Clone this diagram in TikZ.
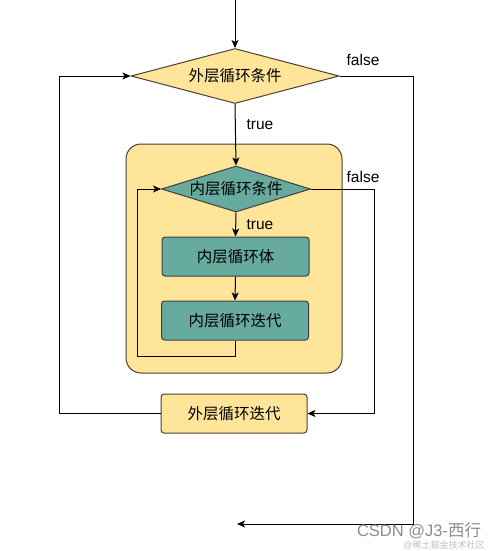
\documentclass[tikz,border=0pt]{standalone}
\usepackage{fontspec}
\setmainfont{Liberation Sans}
\newfontfamily\cjk{Noto Sans CJK SC}
\usetikzlibrary{shapes.geometric,arrows.meta}
\definecolor{ylw}{HTML}{FFE599}
\definecolor{teal2}{HTML}{67AB9F}
\definecolor{bdr}{HTML}{3F3F3F}
\definecolor{ybdr}{HTML}{4A4030}
\tikzset{
  x=1pt,y=-1pt,
  every node/.style={font=\fontsize{15.5}{18}\selectfont},
  ydia/.style={diamond,draw=ybdr,fill=ylw,line width=1pt,inner sep=0pt,aspect=3.8,minimum width=208pt,minimum height=55pt},
  tdia/.style={diamond,draw=bdr,fill=teal2,line width=1pt,inner sep=0pt,aspect=3.2,minimum width=149pt,minimum height=46pt},
  tbox/.style={rectangle,rounded corners=3pt,draw=bdr,fill=teal2,line width=1pt,minimum width=147pt,minimum height=39pt,inner sep=0pt},
  ybox/.style={rectangle,rounded corners=3pt,draw=ybdr,fill=ylw,line width=1pt,minimum width=146pt,minimum height=39pt,inner sep=0pt},
  contbox/.style={rectangle,rounded corners=15pt,draw=ybdr,fill=ylw,line width=1pt,minimum width=216pt,minimum height=229pt,inner sep=0pt},
  arr/.style={line width=1pt,-{Stealth[length=8pt,width=7pt,inset=2pt]}},
  lbl/.style={inner sep=0pt},
}
\begin{document}
\begin{tikzpicture}
\useasboundingbox (0,0) rectangle (495,551);
\node[contbox] (cont) at (234,258.5) {};
\node[ydia] (od) at (235,76) {\cjk 外层循环条件};
\node[tdia] (id) at (236,189) {\cjk 内层循环条件};
\node[tbox] (body) at (235.5,256.5) {\cjk 内层循环体};
\node[tbox] (iit) at (235,320.5) {\cjk 内层循环迭代};
\node[ybox] (oit) at (234,413.5) {\cjk 外层循环迭代};
\coordinate (start) at (235,0);
\coordinate (endp) at (237,524);
\node[lbl] (f1) at (363,60) {false};
\node[lbl] (f2) at (363,177) {false};
\node[lbl] (t1) at (260,125) {true};
\node[lbl] (t2) at (260,225) {true};
\draw[arr] (start) -- (od.north);
\draw[arr] (od.south) -- (id.north);
\draw[arr] (id.south) -- (body.north);
\draw[arr] (body.south) -- (iit.north);
\draw[arr] (iit.south) -- (iit.south |- 0,356) -- (137,356) |- (id.west);
\draw[arr] (id.east) -- (374,189) |- (oit.east);
\draw[arr] (oit.west) -- (59,413.5) |- (od.west);
\draw[arr] (od.east) -- (413,76) |- (endp);
\node[lbl,text=black!45,font=\fontsize{16.5}{18}\selectfont] (wm) at (419,531) {CSDN @J3-{\cjk 西行}};
\node[lbl,text=black!25,font=\fontsize{9}{10}\selectfont] (wm2) at (444,545) {@{\cjk 稀土掘金技术社区}};
\end{tikzpicture}
\end{document}
